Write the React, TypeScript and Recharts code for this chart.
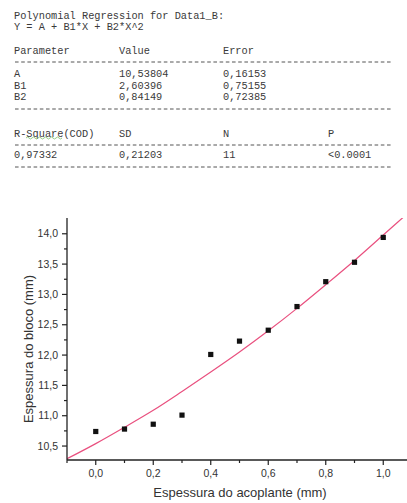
import React from "react"
import { ComposedChart, Line, Scatter, XAxis, YAxis } from "recharts"

// dados medidos (pontos pretos)
const espAcoplante = [0, 0.1, 0.2, 0.3, 0.4, 0.5, 0.6, 0.7, 0.8, 0.9, 1.0]
const espBloco = [10.74, 10.78, 10.86, 11.01, 12.01, 12.23, 12.41, 12.8, 13.21, 13.53, 13.94]

// curva de ajuste
const curvaX = [-0.1, 0, 0.1, 0.2, 0.3, 0.4, 0.5, 0.6, 0.7, 0.8, 0.9, 1.0, 1.1]
const curvaY = [10.29, 10.54, 10.81, 11.09, 11.4, 11.72, 12.05, 12.4, 12.77, 13.16, 13.56, 13.98, 14.4]

const xTicks = [-0.1, 0, 0.1, 0.2, 0.3, 0.4, 0.5, 0.6, 0.7, 0.8, 0.9, 1.0, 1.1]
const yTicks = [10.5, 10.75, 11, 11.25, 11.5, 11.75, 12, 12.25, 12.5, 12.75, 13, 13.25, 13.5, 13.75, 14]

// tabela do ajuste
const tituloAjuste = ["Polynomial Regression for Data1_B:", "Y = A + B1*X + B2*X^2"]
const parametros = ["A", "B1", "B2"]
const valores = ["10,53804", "2,60396", "0,84149"]
const erros = ["0,16153", "0,75155", "0,72385"]
const estatisticas = ["0,97332", "0,21203", "11", "<0.0001"]

const pontos = espAcoplante.map((x, i) => ({ x, y: espBloco[i] }))
const curva = curvaX.map((x, i) => ({ x, y: curvaY[i] }))

const mono = "'Liberation Mono', 'Courier New', monospace"
const sans = "'Liberation Sans', Arial, sans-serif"
const corTexto = "#3a3a3a"

const fmt = (v: number) => v.toFixed(1).replace(".", ",")

const XTick = ({ x, y, payload }: any) => {
  const v = payload.value
  const major = Math.round(v * 10) % 2 === 0
  return (
    <g>
      <line x1={x} x2={x} y1={y} y2={y + (major ? 5 : 3)} stroke="#222" strokeWidth={1.2} />
      {major && (
        <text x={x} y={y + 17} textAnchor="middle" fontSize={10.5} fill="#333" fontFamily={sans}>
          {fmt(v)}
        </text>
      )}
    </g>
  )
}

const YTick = ({ x, y, payload }: any) => {
  const v = payload.value
  const major = Math.abs(v * 2 - Math.round(v * 2)) < 0.001
  return (
    <g>
      <line x1={x - (major ? 5 : 3)} x2={x} y1={y} y2={y} stroke="#222" strokeWidth={1.2} />
      {major && (
        <text x={x - 9} y={y + 3.6} textAnchor="end" fontSize={10.5} fill="#333" fontFamily={sans}>
          {fmt(v)}
        </text>
      )}
    </g>
  )
}

const Quadrado = ({ cx, cy }: any) => <rect x={cx - 2.6} y={cy - 2.6} width={5.2} height={5.2} fill="#111" />

const Row = ({ top, cols }: { top: number; cols: [number, string][] }) => (
  <>
    {cols.map(([left, txt], i) => (
      <div
        key={i}
        style={{ position: "absolute", left, top, lineHeight: "10px", fontSize: 10.3, fontFamily: mono, color: corTexto, whiteSpace: "pre" }}
      >
        {txt}
      </div>
    ))}
  </>
)

// linha tracejada separadora
const Tracejado = ({ y }: { y: number }) => (
  <svg style={{ position: "absolute", left: 14, top: y - 1 }} width={377} height={2}>
    <line x1={1} x2={377} y1={1} y2={1} stroke="#555" strokeWidth={1} strokeDasharray="3.6 2.6" />
  </svg>
)

export default function App() {
  const c = [14, 119, 223, 328]
  const linhas = [10.5, 21.5]
  return (
    <div style={{ position: "absolute", left: 0, top: 0, width: 407, height: 503, overflow: "hidden", background: "#fff" }}>
      {tituloAjuste.map((t, i) => (
        <Row key={t} top={linhas[i]} cols={[[c[0], t]]} />
      ))}
      <Row top={45.5} cols={[[c[0], "Parameter"], [c[1], "Value"], [c[2], "Error"]]} />
      <Tracejado y={61.5} />
      {parametros.map((p, i) => (
        <Row key={p} top={68.8 + i * 11.8} cols={[[c[0], p], [c[1], valores[i]], [c[2], erros[i]]]} />
      ))}
      <Tracejado y={108.5} />
      <Row top={129} cols={[[c[0], "R-Square(COD)"], [c[1], "SD"], [c[2], "N"], [c[3], "P"]]} />
      {/* sublinhado ondulado do corretor */}
      <svg style={{ position: "absolute", left: 26, top: 136 }} width={38} height={4}>
        <path d="M0 2 q1.5 -2 3 0 t3 0 t3 0 t3 0 t3 0 t3 0 t3 0 t3 0 t3 0 t3 0 t3 0 t3 0" fill="none" stroke="#7bbf6a" strokeWidth={0.8} />
      </svg>
      <Tracejado y={144.5} />
      <Row top={149.5} cols={estatisticas.map((s, i) => [c[i], s] as [number, string])} />
      <Tracejado y={167} />

      <div style={{ position: "absolute", left: 0, top: 0 }}>
        <ComposedChart width={412} height={503} margin={{ top: 218, right: 0, bottom: 42, left: 66 }}>
          <XAxis
            type="number"
            dataKey="x"
            domain={[-0.1, 1.1]}
            ticks={xTicks}
            interval={0}
            allowDataOverflow
            height={1}
            tickSize={0}
            tickMargin={0}
            tickLine={false}
            tick={<XTick />}
            axisLine={{ stroke: "#222", strokeWidth: 1.3 }}
          />
          <YAxis
            type="number"
            dataKey="y"
            domain={[10.27, 14.26]}
            ticks={yTicks}
            interval={0}
            allowDataOverflow
            width={1}
            tickSize={0}
            tickMargin={0}
            tickLine={false}
            tick={<YTick />}
            axisLine={{ stroke: "#222", strokeWidth: 1.3 }}
          />
          <Line
            data={curva}
            dataKey="y"
            type="monotone"
            stroke="#e9507f"
            strokeWidth={1.2}
            dot={false}
            activeDot={false}
            isAnimationActive={false}
          />
          <Scatter data={pontos} dataKey="y" shape={<Quadrado />} isAnimationActive={false} />
        </ComposedChart>
      </div>

      <div
        style={{
          position: "absolute",
          left: 28,
          top: 349,
          transform: "translate(-50%, -50%) rotate(-90deg)",
          whiteSpace: "nowrap",
          fontSize: 13,
          fontFamily: sans,
          color: "#333",
        }}
      >
        Espessura do bloco (mm)
      </div>
      <div
        style={{
          position: "absolute",
          left: 240,
          top: 492,
          transform: "translate(-50%, -50%)",
          whiteSpace: "nowrap",
          fontSize: 13,
          fontFamily: sans,
          color: "#333",
        }}
      >
        Espessura do acoplante (mm)
      </div>
    </div>
  )
}
